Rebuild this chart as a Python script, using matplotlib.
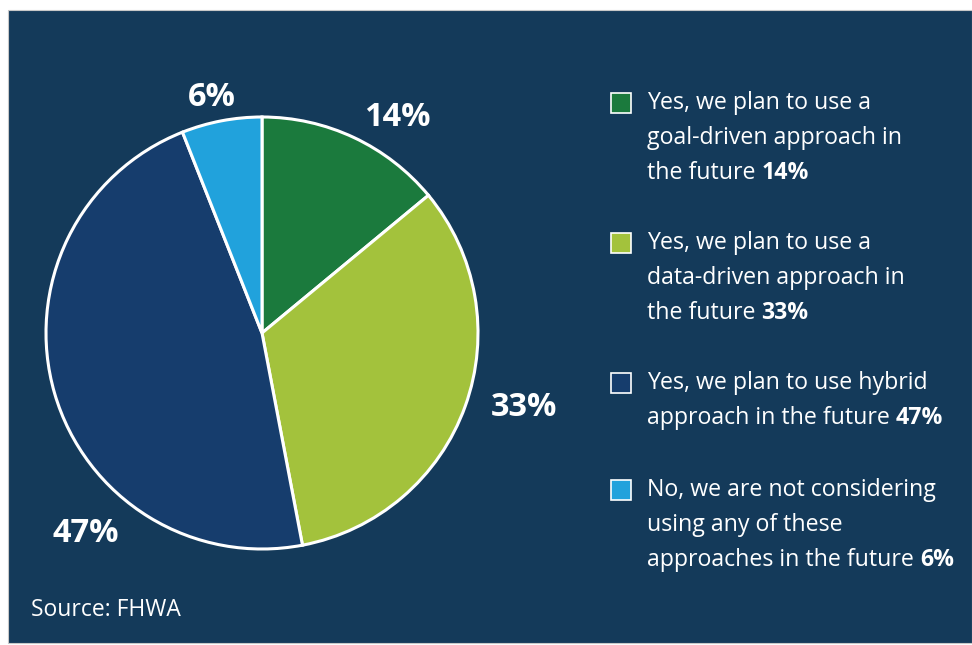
import matplotlib.pyplot as plt
from matplotlib.patches import Rectangle

# survey answers, clockwise from 12 o'clock
labels = [
    ["Yes, we plan to use a", "goal-driven approach in", "the future"],
    ["Yes, we plan to use a", "data-driven approach in", "the future"],
    ["Yes, we plan to use hybrid", "approach in the future"],
    ["No, we are not considering", "using any of these", "approaches in the future"],
]
values = [14, 33, 47, 6]
colors = ["#1b7a3d", "#a3c23c", "#163d6d", "#21a2dc"]

# where each percentage sits around the pie (pixel coords, y from top)
pct_pos = [(397, 117), (524, 408), (86, 533), (212, 97)]
# first text line of each legend entry
legend_top = [103, 243, 383, 490]

W, H = 972, 645
BG = "#143a5a"
plt.rcParams["font.family"] = ["Open Sans", "DejaVu Sans"]

fig = plt.figure(figsize=(W / 100, H / 100), dpi=100, facecolor="white")
ax = fig.add_axes([0, 0, 1, 1])
ax.set_xlim(0, W)
ax.set_ylim(0, H)
ax.set_aspect("equal")
ax.axis("off")

# dark panel
ax.add_patch(Rectangle((8, H - 643), W - 8, 633, facecolor=BG,
                       edgecolor="#c8c8c8", linewidth=0.8, zorder=0))

ax.pie(values, colors=colors, startangle=90, counterclock=False,
       center=(262, H - 333), radius=216,
       wedgeprops=dict(edgecolor="white", linewidth=2.2), frame=True)
ax.set_xlim(0, W)
ax.set_ylim(0, H)
ax.axis("off")

for v, (x, y) in zip(values, pct_pos):
    ax.text(x, H - y, f"{v}%", color="white", fontsize=23.5, fontweight="bold",
            ha="center", va="center")

fs = 16.7
step = 35
for lines, v, c, y0 in zip(labels, values, colors, legend_top):
    ax.add_patch(Rectangle((611, H - y0 - 10), 20, 20, facecolor=c,
                           edgecolor="white", linewidth=1.2))
    for i, line in enumerate(lines):
        t = ax.text(647, H - y0 - i * step, line + " " if i == len(lines) - 1 else line,
                    color="white", fontsize=fs, ha="left", va="center")
    ax.annotate(f"{v}%", xy=(1, 0.5), xycoords=t, color="white", fontsize=fs,
                fontweight="bold", ha="left", va="center")

ax.text(31, H - 610, "Source: FHWA", color="white", fontsize=16.5,
        ha="left", va="center")

fig.savefig("out.png", dpi=100, facecolor="white")
